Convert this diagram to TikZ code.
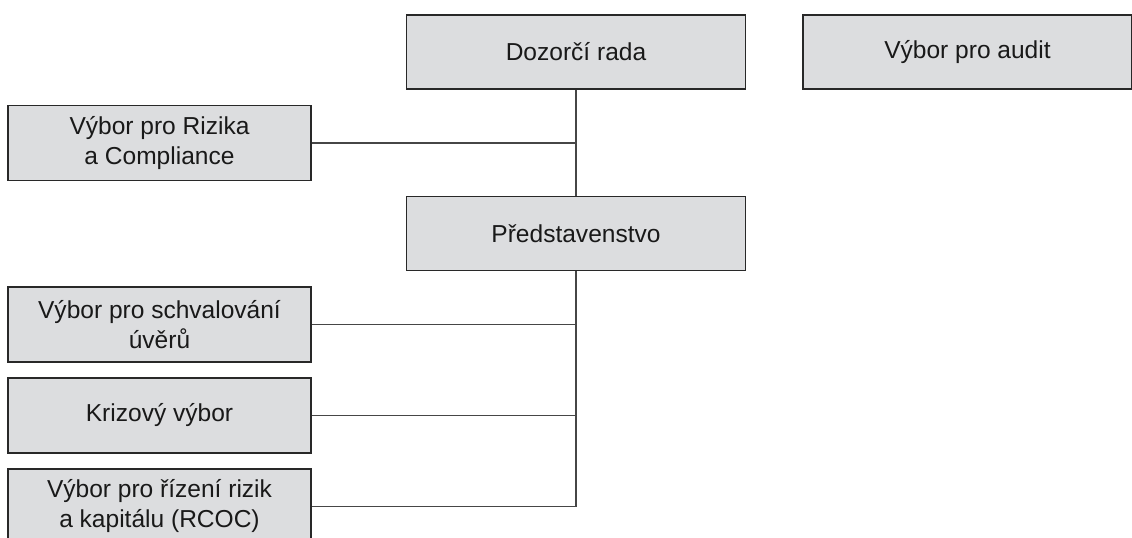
\documentclass[tikz,border=0pt]{standalone}
\usepackage{fontspec}
\setmainfont{Liberation Sans}
\usepackage{tikz}
\usetikzlibrary{positioning,calc}

\definecolor{boxgray}{RGB}{220,221,223}
\definecolor{edgegray}{RGB}{40,40,40}
\definecolor{linkgray}{RGB}{70,70,70}

\tikzset{
  orgbox/.style={draw=edgegray, line width=1pt, fill=boxgray, text=black!90,
    align=center, inner sep=0pt, font=\fontsize{18.4}{22.5}\selectfont},
  bigbox/.style={orgbox, minimum width=254.25pt, minimum height=55.5pt},
  sidebox/.style={orgbox, minimum width=227.25pt, minimum height=56.25pt},
  link/.style={draw=linkgray, line width=1.1pt}
}

\begin{document}
\begin{tikzpicture}[x=0.75pt, y=-0.75pt]
  \useasboundingbox (0,0) rectangle (1132,538);
  \clip (0,0) rectangle (1132,538);

  % top level
  \node[bigbox] (dozor) at (576,52) {Dozorčí rada};
  \node[orgbox, minimum width=246.75pt, minimum height=55.5pt] (audit) at (967.5,52) {Výbor pro audit};
  \node[bigbox] (pred) at (576,233.5) {Představenstvo};

  % committees on the left
  \node[sidebox] (rizika) at (159.5,143) {Výbor pro Rizika\\a Compliance};
  \node[sidebox] (uvery) at (159.5,324.5) {Výbor pro schvalování\\úvěrů};
  \node[sidebox] (krize) at (159.5,415.5) {Krizový výbor};
  \node[sidebox] (rcoc) at (159.5,506.5) {Výbor pro řízení rizik\\a kapitálu (RCOC)};

  % connectors
  \draw[link] (dozor.south) -- (pred.north);
  \draw[link] (rizika.east) -- (rizika.east -| dozor.south);
  \coordinate (spine) at (rcoc.east -| pred.south);
  \draw[link] (pred.south) -- (spine) -- (rcoc.east);
  \draw[link] (uvery.east) -- (uvery.east -| spine);
  \draw[link] (krize.east) -- (krize.east -| spine);
\end{tikzpicture}
\end{document}
